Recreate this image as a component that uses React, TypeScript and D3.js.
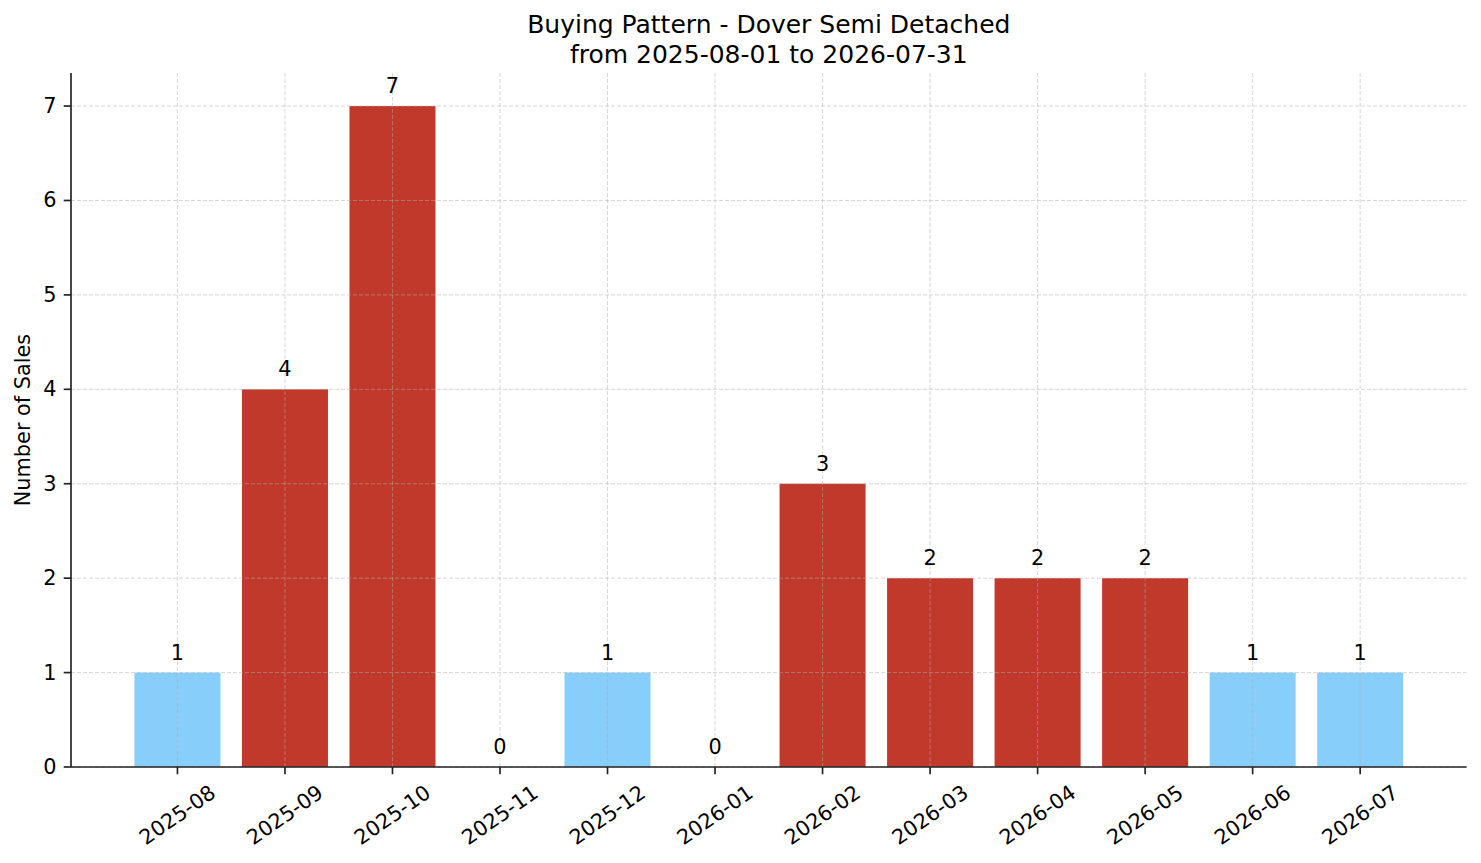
import React from "react";
import * as d3 from "d3";

const months = [
  "2025-08", "2025-09", "2025-10", "2025-11", "2025-12", "2026-01",
  "2026-02", "2026-03", "2026-04", "2026-05", "2026-06", "2026-07",
];
const sales = [1, 4, 7, 0, 1, 0, 3, 2, 2, 2, 1, 1];
const yTicks = [0, 1, 2, 3, 4, 5, 6, 7];
const titleLines = ["Buying Pattern - Dover Semi Detached", "from 2025-08-01 to 2026-07-31"];
const yLabel = "Number of Sales";

const W = 1481;
const H = 863;
const left = 71;
const right = 1466.6;
const top = 73;
const bottom = 767;
const FONT = "DejaVu Sans, sans-serif";
const FS = 20.83;

export default function App() {
  const n = months.length;
  const x = d3.scaleLinear().domain([-0.99, n - 1 + 0.99]).range([left, right]);
  const y = d3.scaleLinear().domain([0, 7.35]).range([bottom, top]);
  const bw = x(0.4) - x(-0.4);
  const color = (v: number) => (v >= 2 ? "#c0392b" : "#87cefa");

  return (
    <svg
      width={W}
      height={H}
      style={{ position: "absolute", left: 0, top: 0, background: "#fff" }}
      fontFamily={FONT}
    >
      <rect x={0} y={0} width={W} height={H} fill="#fff" />
      {sales.map((v, i) => (
        <rect
          key={"b" + i}
          x={x(i) - bw / 2}
          y={y(v)}
          width={bw}
          height={y(0) - y(v)}
          fill={color(v)}
        />
      ))}
      {yTicks.map((t) => (
        <line
          key={"gy" + t}
          x1={left}
          x2={right}
          y1={y(t)}
          y2={y(t)}
          stroke="#b0b0b0"
          strokeOpacity={0.5}
          strokeWidth={1}
          strokeDasharray="4,2"
        />
      ))}
      {months.map((m, i) => (
        <line
          key={"gx" + m}
          x1={x(i)}
          x2={x(i)}
          y1={top}
          y2={bottom}
          stroke="#b0b0b0"
          strokeOpacity={0.5}
          strokeWidth={1}
          strokeDasharray="4,2"
        />
      ))}
      {sales.map((v, i) => (
        <text
          key={"v" + i}
          x={x(i)}
          y={y(v) - 13}
          textAnchor="middle"
          fontSize={FS}
          fill="#000"
        >
          {v}
        </text>
      ))}
      <line x1={left} x2={left} y1={top} y2={bottom} stroke="#222" strokeWidth={1.67} />
      <line x1={left} x2={right} y1={bottom} y2={bottom} stroke="#222" strokeWidth={1.67} />
      {yTicks.map((t) => (
        <g key={"yt" + t}>
          <line x1={left - 7.3} x2={left} y1={y(t)} y2={y(t)} stroke="#222" strokeWidth={1.67} />
          <text
            x={left - 14.6}
            y={y(t)}
            textAnchor="end"
            dominantBaseline="central"
            fontSize={FS}
            fill="#000"
          >
            {t}
          </text>
        </g>
      ))}
      {months.map((m, i) => (
        <g key={"xt" + m}>
          <line x1={x(i)} x2={x(i)} y1={bottom} y2={bottom + 7.3} stroke="#222" strokeWidth={1.67} />
          <text
            transform={`translate(${x(i)},${815}) rotate(-35)`}
            textAnchor="middle"
            dominantBaseline="central"
            fontSize={FS}
            fill="#000"
          >
            {m}
          </text>
        </g>
      ))}
      <text
        transform={`translate(23,${(top + bottom) / 2}) rotate(-90)`}
        textAnchor="middle"
        dominantBaseline="central"
        fontSize={FS}
        fill="#000"
      >
        {yLabel}
      </text>
      {titleLines.map((l, i) => (
        <text
          key={"t" + i}
          x={(left + right) / 2}
          y={33 + i * 30}
          textAnchor="middle"
          fontSize={25}
          fill="#000"
        >
          {l}
        </text>
      ))}
    </svg>
  );
}
